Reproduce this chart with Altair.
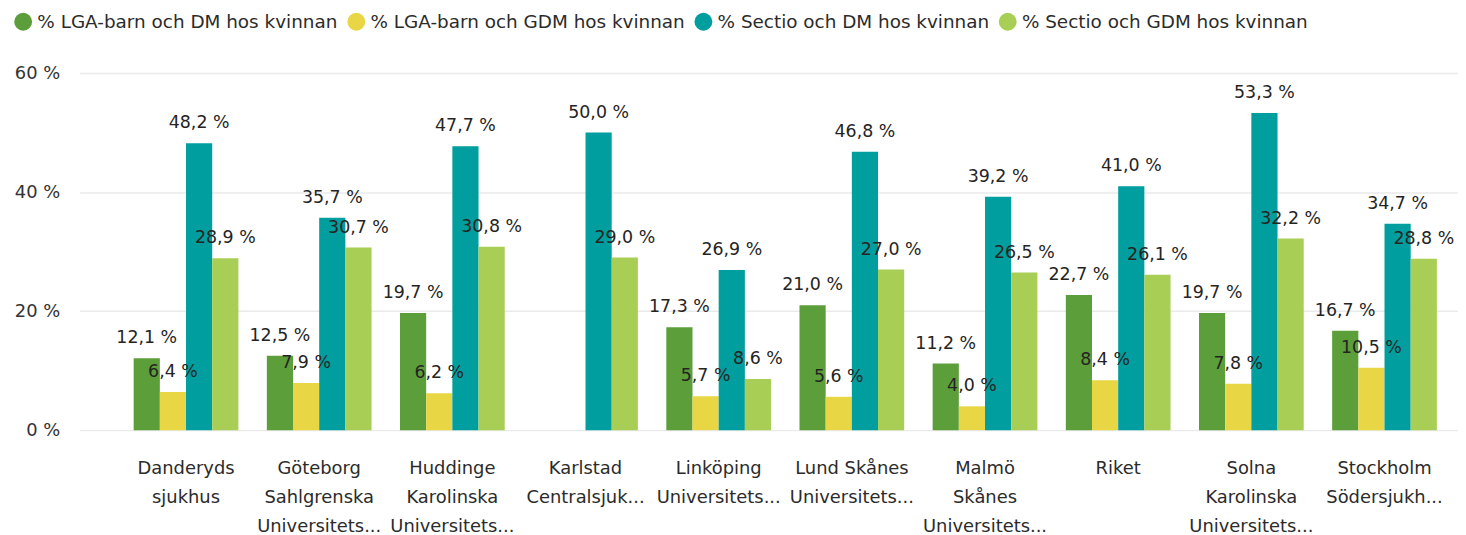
import altair as alt
import pandas as pd

# Categories (display lines joined with \n)
hospitals = [
    "Danderyds\nsjukhus",
    "Göteborg\nSahlgrenska\nUniversitets...",
    "Huddinge\nKarolinska\nUniversitets...",
    "Karlstad\nCentralsjuk...",
    "Linköping\nUniversitets...",
    "Lund Skånes\nUniversitets...",
    "Malmö\nSkånes\nUniversitets...",
    "Riket",
    "Solna\nKarolinska\nUniversitets...",
    "Stockholm\nSödersjukh...",
]

series = [
    "% LGA-barn och DM hos kvinnan",
    "% LGA-barn och GDM hos kvinnan",
    "% Sectio och DM hos kvinnan",
    "% Sectio och GDM hos kvinnan",
]

lga_dm = [12.1, 12.5, 19.7, None, 17.3, 21.0, 11.2, 22.7, 19.7, 16.7]
lga_gdm = [6.4, 7.9, 6.2, None, 5.7, 5.6, 4.0, 8.4, 7.8, 10.5]
sectio_dm = [48.2, 35.7, 47.7, 50.0, 26.9, 46.8, 39.2, 41.0, 53.3, 34.7]
sectio_gdm = [28.9, 30.7, 30.8, 29.0, 8.6, 27.0, 26.5, 26.1, 32.2, 28.8]

colors = ["#5C9E3A", "#E8D644", "#009E9E", "#A8CE55"]

rows = []
for s, vals in zip(series, [lga_dm, lga_gdm, sectio_dm, sectio_gdm]):
    for h, v in zip(hospitals, vals):
        if v is not None:
            rows.append({"sjukhus": h, "serie": s, "varde": v})
df = pd.DataFrame(rows)

FONT = "DejaVu Sans"

base = alt.Chart(df).transform_calculate(
    label="replace(format(datum.varde, '.1f'), '.', ',') + ' %'"
).encode(
    x=alt.X(
        "sjukhus:N",
        sort=hospitals,
        scale=alt.Scale(paddingInner=0.2136, paddingOuter=0.2823, align=0.719),
        axis=alt.Axis(
            title=None,
            labelExpr="split(datum.label, '\\n')",
            ticks=False,
            domain=False,
            labelAngle=0,
            labelPadding=30,
            labelLineHeight=29,
            labelFontSize=18,
            labelFont=FONT,
            labelColor="#2B2B2B",
            labelLimit=0,
            grid=False,
        ),
    ),
    xOffset=alt.XOffset(
        "serie:N",
        sort=series,
        scale=alt.Scale(domain=series, paddingInner=0, paddingOuter=0),
    ),
    y=alt.Y(
        "varde:Q",
        scale=alt.Scale(domain=[0, 60]),
        axis=alt.Axis(
            title=None,
            values=[0, 20, 40, 60],
            labelExpr="datum.value + ' %'",
            ticks=False,
            domain=False,
            labelPadding=20,
            labelFontSize=18,
            labelFont=FONT,
            labelColor="#333333",
            gridColor="#EAEAEA",
            gridWidth=1.5,
            minExtent=72,
            maxExtent=72,
        ),
    ),
)

bars = base.mark_bar().encode(
    color=alt.Color(
        "serie:N",
        sort=series,
        scale=alt.Scale(domain=series, range=colors),
        legend=alt.Legend(
            title=None,
            orient="none",
            legendX=-66,
            legendY=-61,
            direction="horizontal",
            columns=4,
            symbolType="circle",
            symbolSize=324,
            symbolStrokeWidth=0,
            symbolOpacity=1,
            labelFont=FONT,
            labelFontSize=18.5,
            labelColor="#2B2B2B",
            labelOffset=5,
            columnPadding=9,
            labelLimit=0,
        ),
    )
)

text = base.mark_text(
    dy=-15,
    baseline="alphabetic",
    fontSize=17.5,
    font=FONT,
    color="#252423",
).encode(text="label:N")

chart = (
    alt.layer(bars, text)
    .properties(
        width=1386,
        height=359,
        padding={"left": 0, "top": 3, "right": 0, "bottom": 0},
        background="white",
    )
    .configure_view(stroke=None)
)

chart.save("out.html", embed_options={"renderer": "svg", "actions": False})
